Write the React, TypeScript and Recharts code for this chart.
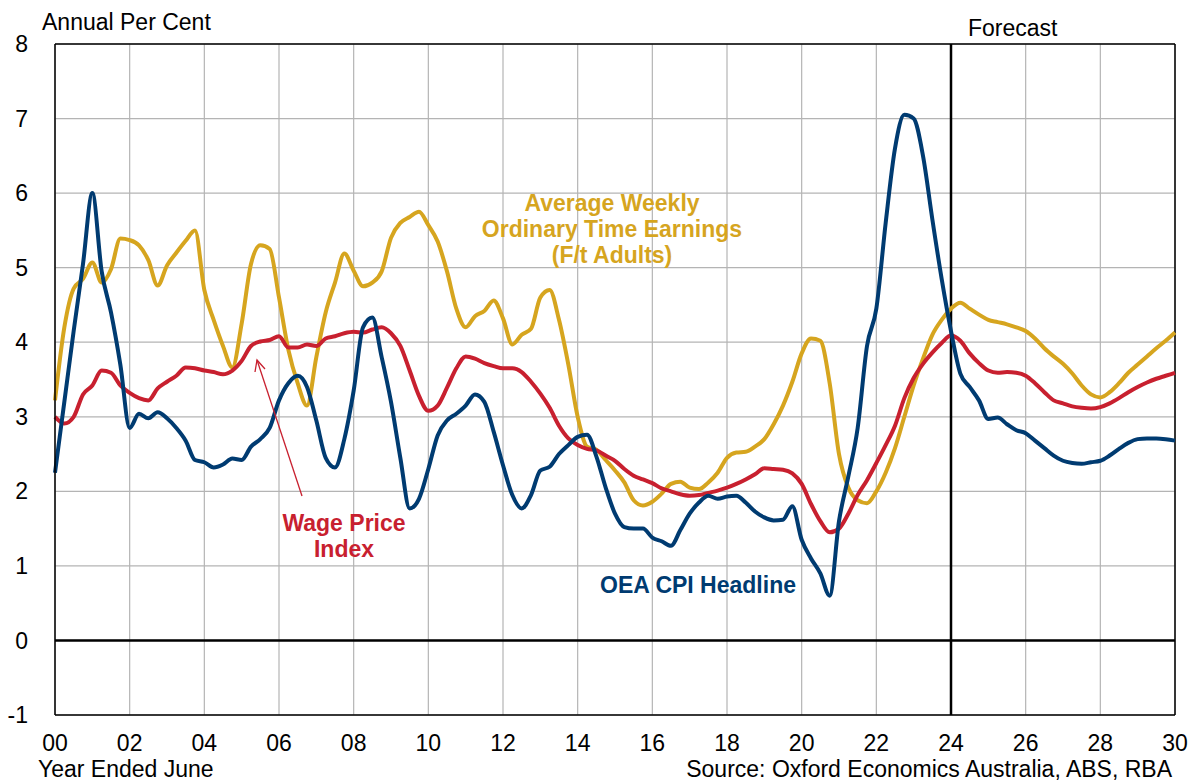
import React from 'react';
import { LineChart, Line, XAxis, YAxis, CartesianGrid, ReferenceLine } from 'recharts';

const FONT = '"Liberation Sans", Arial, sans-serif';

// quarters since June 2000 (year ended June)
const QUARTERS = Array.from({ length: 121 }, (_, i) => i / 4);

const CPI = [
  2.25, 3.2, 4.15, 5.05, 6.0, 4.95, 4.4, 3.7, 2.85, 3.04, 2.98, 3.06,
  2.98, 2.85, 2.68, 2.42, 2.39, 2.32, 2.36, 2.44, 2.42, 2.6, 2.7, 2.85,
  3.22, 3.45, 3.55, 3.4, 2.95, 2.45, 2.32, 2.7, 3.35, 4.2, 4.33, 3.8,
  3.2, 2.45, 1.77, 1.9, 2.3, 2.75, 2.95, 3.04, 3.15, 3.3, 3.2, 2.8,
  2.35, 1.95, 1.77, 1.95, 2.28, 2.33, 2.5, 2.62, 2.73, 2.76, 2.47, 2.05,
  1.7, 1.52, 1.5, 1.5, 1.38, 1.33, 1.27, 1.48, 1.7, 1.85, 1.94, 1.9,
  1.93, 1.94, 1.85, 1.73, 1.65, 1.61, 1.62, 1.8, 1.35, 1.1, 0.9, 0.6,
  1.6, 2.2, 2.85, 3.95, 4.45, 5.6, 6.6, 7.05, 7.0, 6.5, 5.65, 4.85,
  4.15, 3.58, 3.4, 3.22, 2.97, 2.99, 2.9, 2.82, 2.78, 2.68, 2.58, 2.48,
  2.41, 2.38, 2.37, 2.39, 2.41, 2.48, 2.57, 2.65, 2.7, 2.71, 2.71, 2.7,
  2.68,
];

const WPI = [
  3.0, 2.91, 3.0, 3.3, 3.42, 3.62, 3.59, 3.42, 3.32, 3.25, 3.22, 3.38,
  3.47, 3.55, 3.66, 3.65, 3.62, 3.6, 3.57, 3.62, 3.75, 3.95, 4.01, 4.03,
  4.08, 3.93, 3.93, 3.97, 3.95, 4.05, 4.08, 4.12, 4.14, 4.13, 4.17, 4.2,
  4.12, 3.95, 3.62, 3.28, 3.08, 3.15, 3.39, 3.65, 3.81, 3.78, 3.72, 3.68,
  3.65, 3.65, 3.6, 3.47, 3.31, 3.12, 2.88, 2.71, 2.62, 2.57, 2.55, 2.48,
  2.41, 2.3, 2.21, 2.16, 2.11, 2.04, 2.0, 1.96, 1.94, 1.95, 1.98, 2.01,
  2.05, 2.1, 2.16, 2.23, 2.31, 2.3, 2.29, 2.24, 2.1, 1.83, 1.6, 1.45,
  1.5, 1.7, 1.95, 2.15, 2.38, 2.62, 2.88, 3.25, 3.52, 3.71, 3.86, 3.99,
  4.09, 4.02, 3.85, 3.72, 3.62, 3.59, 3.6, 3.59, 3.55, 3.45, 3.33, 3.22,
  3.18, 3.14, 3.12, 3.11, 3.13, 3.18, 3.25, 3.33, 3.4, 3.46, 3.51, 3.55,
  3.59,
];

const AWOTE = [
  3.22, 4.2, 4.72, 4.85, 5.07, 4.8, 4.98, 5.39, 5.37, 5.3, 5.1, 4.76,
  5.03, 5.2, 5.36, 5.5, 4.7, 4.3, 3.95, 3.66, 4.25, 5.05, 5.3, 5.25,
  4.6, 3.9, 3.45, 3.15, 3.8, 4.4, 4.8, 5.19, 4.96, 4.75, 4.8, 4.95,
  5.4, 5.6, 5.68, 5.75, 5.57, 5.35, 4.95, 4.45, 4.2, 4.35, 4.42, 4.56,
  4.32, 3.97, 4.1, 4.18, 4.6, 4.7, 4.3, 3.7, 3.0, 2.6, 2.56, 2.42,
  2.28, 2.12, 1.88, 1.81, 1.86, 1.97, 2.1, 2.13, 2.05, 2.03, 2.12, 2.25,
  2.45, 2.52, 2.53, 2.6, 2.7, 2.9, 3.15, 3.47, 3.85, 4.05, 4.02, 3.45,
  2.5, 2.05, 1.88, 1.84, 2.0, 2.25, 2.58, 3.0, 3.42, 3.78, 4.1, 4.3,
  4.45, 4.53, 4.45, 4.37, 4.3, 4.27, 4.24, 4.2, 4.15, 4.05, 3.92, 3.81,
  3.71, 3.58, 3.42, 3.3, 3.26, 3.33, 3.45, 3.59, 3.7, 3.81, 3.92, 4.02,
  4.13,
];

const X_TICKS = [0, 2, 4, 6, 8, 10, 12, 14, 16, 18, 20, 22, 24, 26, 28, 30];
const Y_TICKS = [-1, 0, 1, 2, 3, 4, 5, 6, 7, 8];

const NAVY = '#003b71';
const RED = '#c8202f';
const GOLD = '#d6a51f';

const data = QUARTERS.map((t, i) => ({ t, cpi: CPI[i], wpi: WPI[i], awote: AWOTE[i] }));

const App: React.FC = () => {
  return (
    <div style={{ position: 'absolute', left: 0, top: 0, width: 1196, height: 781, background: '#fff', fontFamily: FONT }}>
      <LineChart width={1196} height={781} data={data} margin={{ top: 44, right: 21, bottom: 0, left: 0 }}>
        <CartesianGrid stroke="#b4b4b4" strokeWidth={1.2} />
        <XAxis
          dataKey="t"
          type="number"
          domain={[0, 30]}
          ticks={X_TICKS}
          interval={0}
          tickFormatter={(v: number) => String(v).padStart(2, '0')}
          height={66}
          tickLine={false}
          tickSize={0}
          tickMargin={20}
          axisLine={{ stroke: '#000', strokeWidth: 1.5 }}
          tick={{ fontSize: 23, fill: '#000', fontFamily: FONT }}
        />
        <YAxis
          domain={[-1, 8]}
          ticks={Y_TICKS}
          interval={0}
          width={55}
          tickLine={false}
          tickSize={0}
          tickMargin={27}
          axisLine={{ stroke: '#000', strokeWidth: 1.5 }}
          tick={{ fontSize: 23, fill: '#000', fontFamily: FONT }}
        />
        <ReferenceLine y={8} stroke="#000" strokeWidth={1.5} />
        <ReferenceLine x={30} stroke="#000" strokeWidth={1.5} />
        <ReferenceLine y={0} stroke="#000" strokeWidth={2.5} />
        <ReferenceLine x={24} stroke="#000" strokeWidth={2.5} />
        <Line dataKey="awote" type="monotone" stroke={GOLD} strokeWidth={4} dot={false} isAnimationActive={false} />
        <Line dataKey="wpi" type="monotone" stroke={RED} strokeWidth={4} dot={false} isAnimationActive={false} />
        <Line dataKey="cpi" type="monotone" stroke={NAVY} strokeWidth={4} dot={false} isAnimationActive={false} />
      </LineChart>

      {/* titles, notes and series labels */}
      <svg width={1196} height={781} style={{ position: 'absolute', left: 0, top: 0, pointerEvents: 'none' }}>
        <g fontFamily={FONT} fontSize={23}>
          <text x={42} y={30} fill="#000">Annual Per Cent</text>
          <text x={968} y={36} fill="#000">Forecast</text>
          <text x={38} y={777} fill="#000">Year Ended June</text>
          <text x={1172} y={777} fill="#000" textAnchor="end">Source: Oxford Economics Australia, ABS, RBA</text>
        </g>
        <g fontFamily={FONT} fontSize={23} fontWeight="bold" textAnchor="middle">
          <text x={612} y={211} fill={GOLD}>Average Weekly</text>
          <text x={612} y={237} fill={GOLD}>Ordinary Time Earnings</text>
          <text x={612} y={263} fill={GOLD}>(F/t Adults)</text>
          <text x={344} y={531} fill={RED}>Wage Price</text>
          <text x={344} y={557} fill={RED}>Index</text>
          <text x={698} y={593} fill={NAVY}>OEA CPI Headline</text>
        </g>
        <g stroke={RED} strokeWidth={1.3} fill="none">
          <line x1={302} y1={496} x2={257} y2={360} />
          <polyline points="255,372 257,360 265,369" />
        </g>
      </svg>
    </div>
  );
};

export default App;
